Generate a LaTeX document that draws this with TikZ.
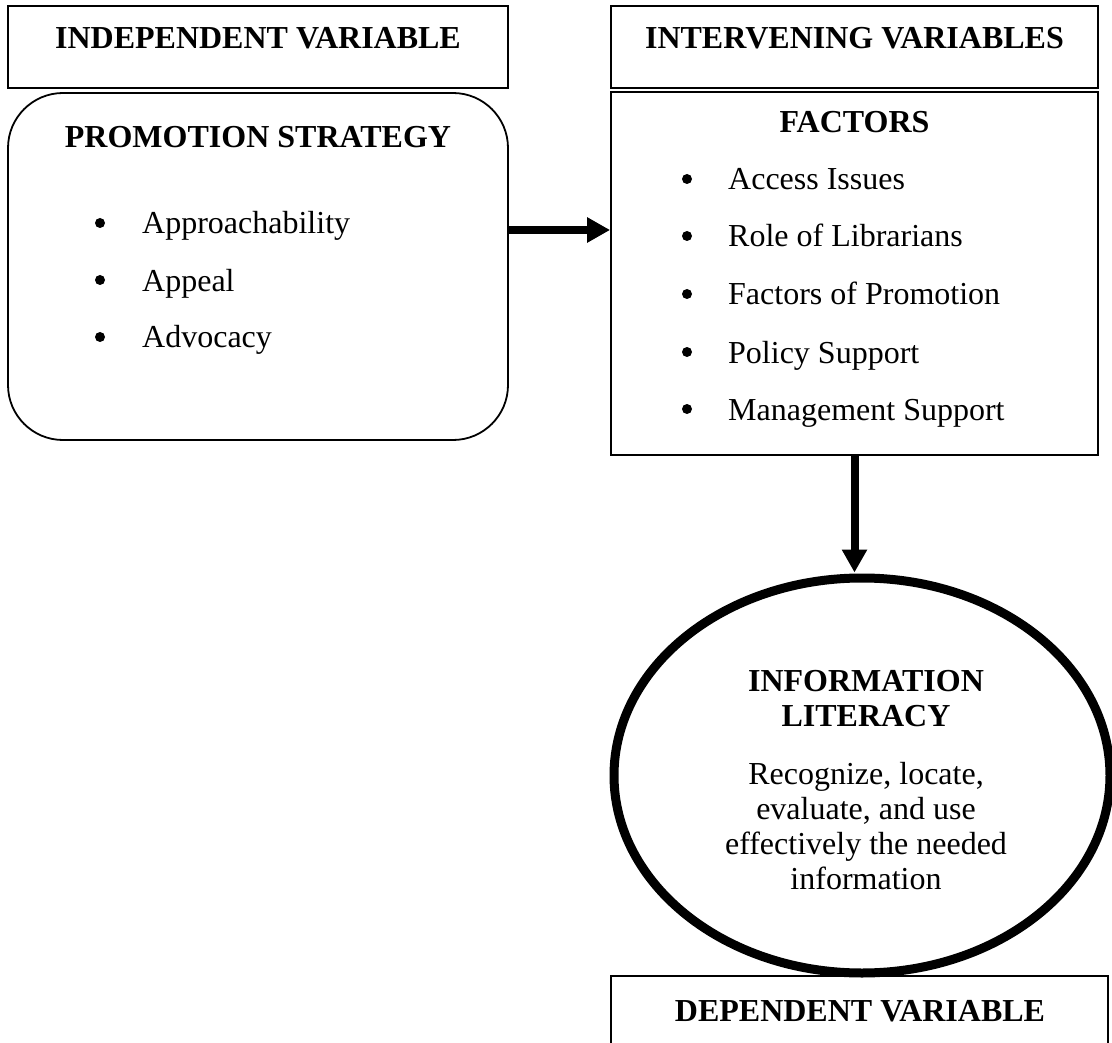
\documentclass[tikz,border=0pt]{standalone}
\usepackage{fontspec}
\setmainfont{Liberation Serif}
\usetikzlibrary{arrows.meta,shapes.geometric}
\begin{document}
\begin{tikzpicture}[x=1pt,y=-1pt,
  box/.style={draw, line width=1.8pt, rectangle, inner sep=0pt},
  txt/.style={inner sep=0pt, font=\fontsize{32}{35}\selectfont, anchor=base},
  ttl/.style={inner sep=0pt, font=\fontsize{32}{35}\selectfont\bfseries, anchor=base},
  itm/.style={txt, anchor=base west},
  bdot/.style={circle, fill, inner sep=0pt, minimum size=10pt},
  arr/.style={line width=8pt, -{Triangle[length=23pt,width=24pt]}}]
\useasboundingbox (0,0) rectangle (1112,1043);
\clip (0,0) rectangle (1112,1043);

% header boxes
\node[box, minimum width=500pt, minimum height=82pt] (ivbox) at (258,47) {};
\node[ttl] (ivtxt) at (258,49) {INDEPENDENT VARIABLE};
\node[box, minimum width=487pt, minimum height=82pt] (inbox) at (854.5,47) {};
\node[ttl] (intxt) at (854.5,49) {INTERVENING VARIABLES};

% promotion strategy
\node[box, rounded corners=55pt, minimum width=500pt, minimum height=347pt] (pbox) at (258,266.5) {};
\node[ttl] (ptxt) at (258,148) {PROMOTION STRATEGY};
\node[bdot] (pb1) at (100,223) {};
\node[itm] (pi1) at (142,234) {Approachability};
\node[bdot] (pb2) at (100,280) {};
\node[itm] (pi2) at (142,291) {Appeal};
\node[bdot] (pb3) at (100,337) {};
\node[itm] (pi3) at (142,348) {Advocacy};

% factors
\node[box, minimum width=487pt, minimum height=363pt] (fbox) at (854.5,273.5) {};
\node[ttl] (ftxt) at (854.5,133) {FACTORS};
\node[bdot] (fb1) at (687,179) {};
\node[itm] (fi1) at (728,190) {Access Issues};
\node[bdot] (fb2) at (687,236) {};
\node[itm] (fi2) at (728,247) {Role of Librarians};
\node[bdot] (fb3) at (687,294) {};
\node[itm] (fi3) at (728,305) {Factors of Promotion};
\node[bdot] (fb4) at (687,352) {};
\node[itm] (fi4) at (728,363) {Policy Support};
\node[bdot] (fb5) at (687,409) {};
\node[itm] (fi5) at (728,420) {Management Support};

% information literacy
\node[draw, ellipse, line width=9pt, inner sep=0pt, minimum width=496pt, minimum height=395pt] (lit) at (862,775.5) {};
\node[ttl] (l1) at (866,691) {INFORMATION};
\node[ttl] (l2) at (866,726) {LITERACY};
\node[txt] (l3) at (866,784) {Recognize, locate,};
\node[txt] (l4) at (866,819) {evaluate, and use};
\node[txt] (l5) at (866,854) {effectively the needed};
\node[txt] (l6) at (866,889) {information};

% dependent variable
\node[box, minimum width=497pt, minimum height=120pt] (dbox) at (859.5,1036) {};
\node[ttl] (dtxt) at (860,1021) {DEPENDENT VARIABLE};

% connectors
\coordinate (hy) at (0,230);
\draw[arr] (pbox.east |- hy) -- (fbox.west |- hy);
\draw[arr, shorten >=1pt] (fbox.south) -- (fbox.south |- lit.north);
\end{tikzpicture}
\end{document}
